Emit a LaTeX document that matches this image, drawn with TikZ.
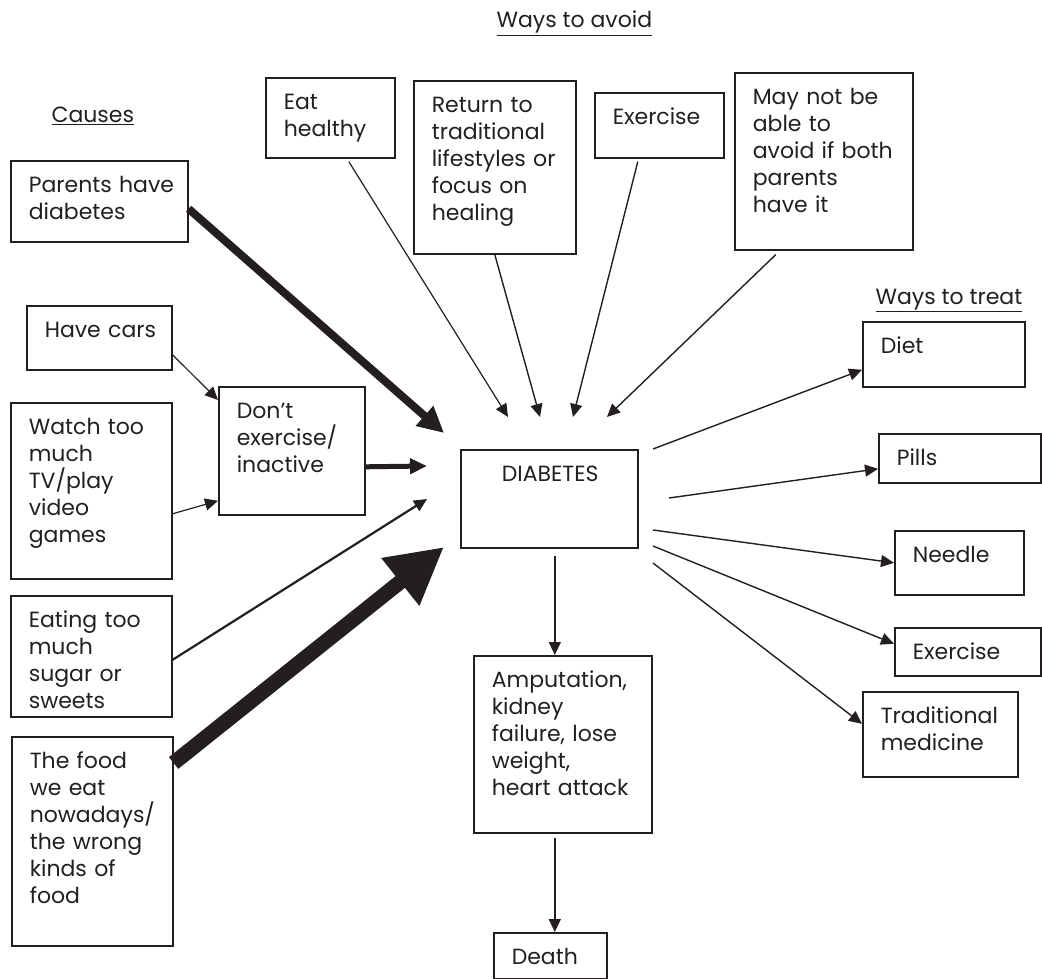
\documentclass[tikz,border=0pt]{standalone}
\usepackage{fontspec}
\setmainfont{Poppins}
\usepackage{tikz}
\usetikzlibrary{arrows.meta}

\definecolor{ink}{RGB}{35,31,32}
\newcommand{\boxfont}{\fontsize{22}{27}\selectfont}

\tikzset{
  box/.style={draw=ink, text=ink, line width=1.6pt, anchor=north west,
    inner xsep=1pt, inner ysep=0pt, text height=31.5pt, align=left, font=\boxfont,
    execute at begin node={\leftskip=17pt\relax}},
  heading/.style={anchor=base west, text=ink, font=\boxfont},
  arr/.style={draw=ink, line width=1.4pt, -{Triangle[length=13pt,width=12pt]}},
}

\begin{document}
\begin{tikzpicture}[x=1pt, y=-1pt]
        \useasboundingbox (0,0) rectangle (1042,979);
        % headings
        \node[heading] (causes) at (48,123) {\underline{Causes}};
        \node[heading] (avoid) at (493,28) {\underline{Ways to avoid}};
        \node[heading] (treat) at (872,304) {\underline{Ways to treat}};
        % causes
        \node[box, text width=175pt, text depth=49.5pt] (parents) at (10,160) {Parents have\\diabetes};
        \node[box, text width=143pt, text depth=32.5pt] (cars) at (26,305) {Have cars};
        \node[box, text width=159pt, text depth=144.5pt] (watch) at (10,402) {Watch too\\much\\TV/play\\video\\games};
        \node[box, text width=159pt, text depth=89.5pt] (eating) at (10,595) {Eating too\\much\\sugar or\\sweets};
        \node[box, text width=159pt, text depth=177.5pt] (food) at (11,736) {The food\\we eat\\nowadays/\\the wrong\\kinds of\\food};
        \node[box, text width=144pt, text depth=96.5pt] (inactive) at (218,386) {Don't\\exercise/\\inactive};
        % ways to avoid
        \node[box, text width=127pt, text depth=48.5pt] (eat) at (265,77) {Eat\\healthy};
        \node[box, text width=160pt, text depth=141.5pt] (ret) at (413,80) {Return to\\traditional\\lifestyles or\\focus on\\healing};
        \node[box, text width=127pt, text depth=33.5pt] (exer) at (594,92) {Exercise};
        \node[box, text width=176pt, text depth=145.5pt] (maynot) at (734,72) {May not be\\able to\\avoid if both\\parents\\have it};
        % center
        \node[box, text width=175pt, text depth=66.5pt,
          execute at begin node={\leftskip=40pt\relax}] (diab) at (460,449) {DIABETES};
        % ways to treat
        \node[box, text width=160pt, text depth=33.5pt] (diet) at (862,321) {Diet};
        \node[box, text width=160pt, text depth=17.5pt] (pills) at (878,433) {Pills};
        \node[box, text width=127pt, text depth=32.5pt] (needle) at (894,530) {Needle};
        \node[box, text width=144pt, text depth=16.5pt] (exert) at (894,627) {Exercise};
        \node[box, text width=153pt, text depth=53.5pt] (trad) at (862,691) {Traditional\\medicine};
        % results
        \node[box, text width=176pt, text depth=145.5pt] (amput) at (473,655) {Amputation,\\kidney\\failure, lose\\weight,\\heart attack};
        \node[box, text width=111pt, text depth=14.5pt] (death) at (493,932) {Death};

        % free ends round the centre box
        \coordinate (inParents) at (444,433);
        \coordinate (inEat) at (508,417);
        \coordinate (inRet) at (540,417);
        \coordinate (inExer) at (573,417);
        \coordinate (inMay) at (607,417);
        \coordinate (inInactive) at (427,466);
        \coordinate (inEating) at (427,499);
        \coordinate (inFood) at (444,547);
        \coordinate (outDiet) at (653,449);
        \coordinate (outPills) at (669,498);
        \coordinate (outNeedle) at (653,530);
        \coordinate (outExer) at (653,546);
        \coordinate (outTrad) at (653,563);

        % causes
        \draw[arr, line width=8pt, -{Triangle[length=26pt,width=25pt]}] ([yshift=-7.5pt]parents.east) -- (inParents);
        \draw[arr, line width=1.2pt] ([yshift=-17pt]cars.east) -- ([yshift=-14pt]inactive.north west);
        \draw[arr, line width=1.2pt] ([yshift=-23pt]watch.east) -- ([yshift=-50pt]inactive.west);
        \draw[arr, line width=5pt, -{Triangle[length=17pt,width=15pt]}] ([yshift=-16pt]inactive.east) -- (inInactive);
        \draw[arr, line width=2.2pt] ([yshift=-3.5pt]eating.east) -- (inEating);
        \draw[arr, line width=15pt, -{Triangle[length=56pt,width=57pt]}] ([yshift=-27pt]food.north east) -- (inFood);
        % ways to avoid
        \draw[arr, line width=1.2pt] ([xshift=18.5pt,yshift=-3pt]eat.south) -- (inEat);
        \draw[arr] (ret.south) -- (inRet);
        \draw[arr] ([xshift=-21.5pt,yshift=-3pt]exer.south) -- (inExer);
        \draw[arr] ([xshift=-48pt,yshift=-4pt]maynot.south) -- (inMay);
        % ways to treat
        \draw[arr] (outDiet) -- ([yshift=-15.5pt]diet.west);
        \draw[arr] (outPills) -- ([yshift=-10.5pt]pills.west);
        \draw[arr] (outNeedle) -- (needle.west);
        \draw[arr] (outExer) -- ([yshift=8pt]exert.west);
        \draw[arr] (outTrad) -- ([yshift=10.5pt]trad.west);
        % results
        \draw[arr] ([xshift=5.5pt,yshift=-7pt]diab.south) -- ([xshift=-8pt]amput.north);
        \draw[arr] ([xshift=-8pt,yshift=-4pt]amput.south) -- ([xshift=4.5pt]death.north);
    \end{tikzpicture}
\end{document}
